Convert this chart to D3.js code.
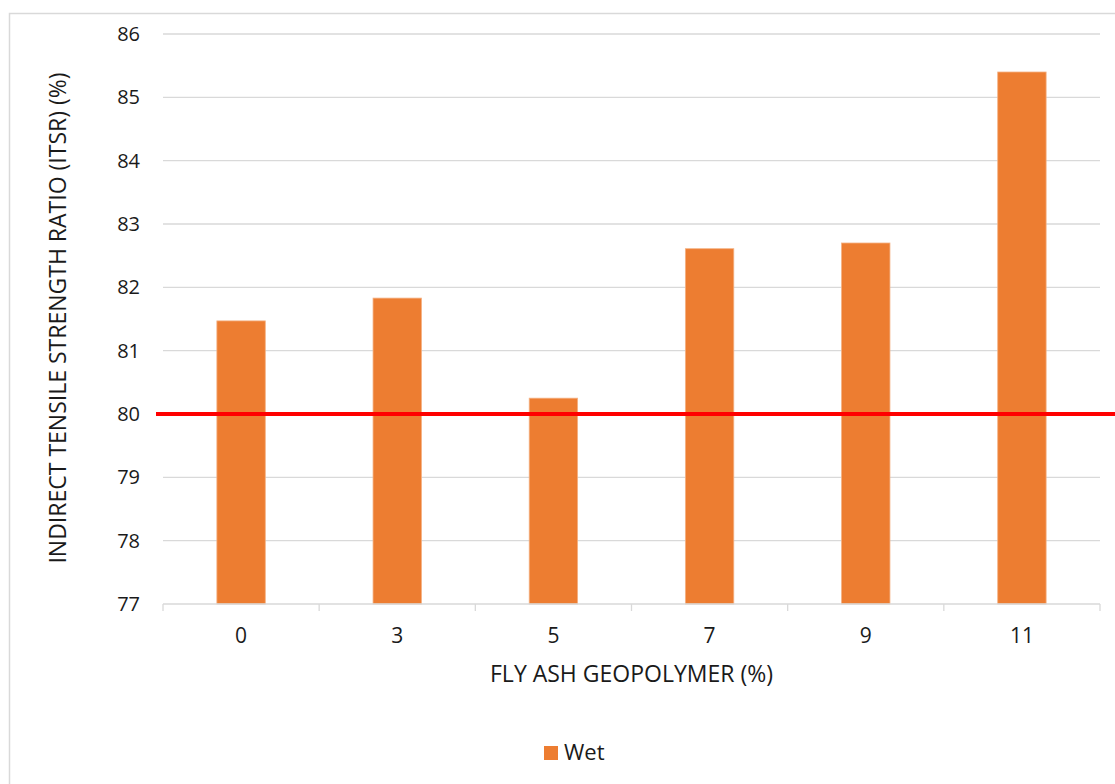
<!DOCTYPE html>
<html>
<head>
<meta charset="utf-8">
<script src="https://cdn.jsdelivr.net/npm/d3@7/dist/d3.min.js"></script>
<style>
  html, body { margin: 0; padding: 0; background: #fff; }
  svg { display: block; font-family: "Open Sans", Lato, sans-serif; }
</style>
</head>
<body>
<svg id="chart" width="1115" height="784"></svg>
<script>
// Fly ash geopolymer content (%) and wet ITSR values (%)
const categories = ["0", "3", "5", "7", "9", "11"];
const wetValues = [81.47, 81.83, 80.25, 82.61, 82.70, 85.40];
const yTicks = [77, 78, 79, 80, 81, 82, 83, 84, 85, 86];
const thresholdValue = [80];
const seriesName = "Wet";

const svg = d3.select("#chart");
const margin = { left: 163, right: 1100, top: 34, bottom: 604 };
const textColor = "#1a1a1a";

// chart frame
svg.append("rect")
  .attr("x", 9.5).attr("y", 13.5)
  .attr("width", 1115).attr("height", 800)
  .attr("fill", "#fff").attr("stroke", "#d9d9d9").attr("stroke-width", 1.5);

const x = d3.scaleBand()
  .domain(categories)
  .range([margin.left, margin.right])
  .paddingInner(0.69).paddingOuter(0.345);

const xCat = d3.scaleBand().domain(categories).range([margin.left, margin.right]);

const y = d3.scaleLinear().domain([77, 86]).range([margin.bottom, margin.top]);

// horizontal gridlines
svg.append("g").selectAll("line")
  .data(yTicks.filter(d => d !== 77))
  .join("line")
  .attr("x1", margin.left).attr("x2", margin.right)
  .attr("y1", d => y(d)).attr("y2", d => y(d))
  .attr("stroke", "#d9d9d9").attr("stroke-width", 1.3);

// y axis labels
const yAxis = d3.axisLeft(y).tickValues(yTicks).tickSize(0).tickPadding(23);
svg.append("g")
  .attr("transform", `translate(${margin.left},0)`)
  .call(yAxis)
  .call(g => g.select(".domain").remove())
  .selectAll("text")
  .attr("font-size", 20).attr("fill", textColor)
  .attr("font-family", "'Open Sans', Lato, sans-serif");

// bars
svg.append("g").selectAll("rect")
  .data(wetValues)
  .join("rect")
  .attr("x", (d, i) => x(categories[i]))
  .attr("width", x.bandwidth())
  .attr("y", d => y(d))
  .attr("height", d => y(77) - y(d))
  .attr("fill", "#ED7D31")
  .attr("stroke", "#f4b183").attr("stroke-width", 0.8);

// x axis baseline with category separators
svg.append("line")
  .attr("x1", margin.left).attr("x2", margin.right)
  .attr("y1", y(77)).attr("y2", y(77))
  .attr("stroke", "#d9d9d9").attr("stroke-width", 1.3);
const sepPositions = categories.map(c => xCat(c)).concat([margin.right]);
svg.append("g").selectAll("line")
  .data(sepPositions)
  .join("line")
  .attr("x1", d => d).attr("x2", d => d)
  .attr("y1", y(77)).attr("y2", y(77) + 7)
  .attr("stroke", "#d9d9d9").attr("stroke-width", 1.3);

// category labels
svg.append("g").selectAll("text")
  .data(categories)
  .join("text")
  .attr("x", d => xCat(d) + xCat.bandwidth() / 2)
  .attr("y", 643)
  .attr("text-anchor", "middle")
  .attr("font-size", 21).attr("fill", textColor)
  .text(d => d);

// 80% threshold line
svg.append("g").selectAll("line")
  .data(thresholdValue)
  .join("line")
  .attr("x1", 156).attr("x2", 1115)
  .attr("y1", d => y(d)).attr("y2", d => y(d))
  .attr("stroke", "#ff0000").attr("stroke-width", 4);

// axis titles
svg.append("text")
  .attr("x", (margin.left + margin.right) / 2).attr("y", 682)
  .attr("text-anchor", "middle")
  .attr("font-size", 23).attr("fill", textColor)
  .text("FLY ASH GEOPOLYMER (%)");

svg.append("text")
  .attr("transform", `translate(66,318) rotate(-90)`)
  .attr("text-anchor", "middle")
  .attr("font-size", 23).attr("fill", textColor)
  .text("INDIRECT TENSILE STRENGTH RATIO (ITSR) (%)");

// legend
const legend = svg.append("g").attr("transform", "translate(544,746)");
legend.append("rect").attr("width", 14).attr("height", 14).attr("fill", "#ED7D31");
legend.append("text").attr("x", 20).attr("y", 14)
  .attr("font-size", 22).attr("fill", textColor).text(seriesName);
</script>
</body>
</html>
